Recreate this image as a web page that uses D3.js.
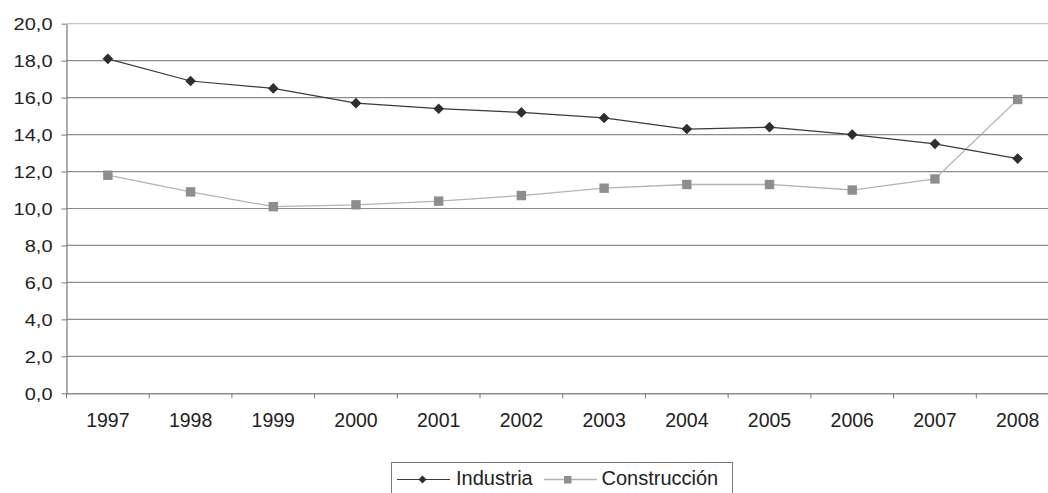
<!DOCTYPE html>
<html>
<head>
<meta charset="utf-8">
<script src="https://cdn.jsdelivr.net/npm/d3@7"></script>
<style>
  html, body { margin: 0; padding: 0; background: #fff; overflow: hidden; }
  svg { display: block; font-family: "Liberation Sans", Arial, sans-serif; }
</style>
</head>
<body>
<svg id="chart" width="1048" height="493"></svg>
<script>
const years = ["1997","1998","1999","2000","2001","2002","2003","2004","2005","2006","2007","2008"];
const industria = [18.1, 16.9, 16.5, 15.7, 15.4, 15.2, 14.9, 14.3, 14.4, 14.0, 13.5, 12.7];
const construccion = [11.8, 10.9, 10.1, 10.2, 10.4, 10.7, 11.1, 11.3, 11.3, 11.0, 11.6, 15.9];
const yTicks = [0, 2, 4, 6, 8, 10, 12, 14, 16, 18, 20];
const seriesNames = ["Industria", "Construcción"];

const svg = d3.select("#chart");
const plotLeft = 66.5, plotRight = 1059, plotTop = 23.7, plotBottom = 393.3;
const textColor = "#222";

const x = d3.scaleBand().domain(years).range([plotLeft, plotRight]);
const y = d3.scaleLinear().domain([0, 20]).range([plotBottom, plotTop]);
const fmt = v => d3.format(".1f")(v).replace(".", ",");
const cx = i => x(years[i]) + x.bandwidth() / 2;

// horizontal gridlines
svg.append("g").selectAll("line").data(yTicks.filter(d => d > 0)).join("line")
  .attr("x1", plotLeft).attr("x2", plotRight)
  .attr("y1", d => y(d)).attr("y2", d => y(d))
  .attr("stroke", d => d === 20 ? "#c4c4c4" : "#8c8c8c").attr("stroke-width", 1.2);

// y axis
const yAxis = svg.append("g").attr("transform", `translate(${plotLeft},0)`)
  .call(d3.axisLeft(y).tickValues(yTicks).tickFormat(fmt).tickSize(5).tickSizeOuter(0));
yAxis.select(".domain").attr("stroke", "#777").attr("stroke-width", 1.2);
yAxis.selectAll(".tick line").attr("stroke", "#777");
yAxis.selectAll(".tick text")
  .attr("font-size", 20).attr("fill", textColor)
  .attr("font-family", "Liberation Sans, Arial, sans-serif")
  .attr("x", 0).attr("dy", "0.36em")
  .attr("transform", "translate(-14,0) scale(1,0.82)");

// x axis
const xAxis = svg.append("g").attr("transform", `translate(0,${plotBottom})`)
  .call(d3.axisBottom(x).tickSize(0).tickSizeOuter(0));
xAxis.select(".domain").attr("stroke", "#8c8c8c").attr("stroke-width", 1.4);
xAxis.selectAll(".tick text").attr("font-size", 19.5).attr("fill", textColor)
  .attr("y", 20).attr("font-family", "Liberation Sans, Arial, sans-serif");
// tick marks at band boundaries
svg.append("g").selectAll("line").data(years).join("line")
  .attr("x1", d => x(d)).attr("x2", d => x(d))
  .attr("y1", plotBottom).attr("y2", plotBottom + 5)
  .attr("stroke", "#777");

const line = d3.line().x((d, i) => cx(i)).y(d => y(d));

// Construcción
svg.append("path").datum(construccion).attr("d", line)
  .attr("fill", "none").attr("stroke", "#b3b3b3").attr("stroke-width", 1.3);
svg.append("g").selectAll("rect").data(construccion).join("rect")
  .attr("x", (d, i) => cx(i) - 4.7)
  .attr("y", d => y(d) - 4.7)
  .attr("width", 9.4).attr("height", 9.4)
  .attr("fill", "#8e8e8e");

// Industria
svg.append("path").datum(industria).attr("d", line)
  .attr("fill", "none").attr("stroke", "#3a3a3a").attr("stroke-width", 1.2);
const diamond = d3.symbol().type(d3.symbolDiamond2).size(72);
svg.append("g").selectAll("path").data(industria).join("path")
  .attr("d", diamond)
  .attr("transform", (d, i) => `translate(${cx(i)},${y(d)})`)
  .attr("fill", "#2e2e2e");

// legend
const lg = svg.append("g").attr("font-family", "Liberation Sans, Arial, sans-serif");
lg.append("rect").attr("x", 391.5).attr("y", 462.5).attr("width", 341).attr("height", 40)
  .attr("fill", "#fff").attr("stroke", "#777").attr("stroke-width", 1);
lg.append("line").attr("x1", 397).attr("x2", 450).attr("y1", 479.5).attr("y2", 479.5)
  .attr("stroke", "#3a3a3a").attr("stroke-width", 1.2);
lg.append("path").attr("d", d3.symbol().type(d3.symbolDiamond2).size(40))
  .attr("transform", "translate(422.5,479.5)").attr("fill", "#2e2e2e");
lg.append("text").attr("x", 456).attr("y", 484.5).attr("font-size", 20).attr("fill", textColor)
  .text(seriesNames[0]);
lg.append("line").attr("x1", 544).attr("x2", 597).attr("y1", 479.5).attr("y2", 479.5)
  .attr("stroke", "#b3b3b3").attr("stroke-width", 1.3);
lg.append("rect").attr("x", 564).attr("y", 476).attr("width", 7.5).attr("height", 7.5)
  .attr("fill", "#8e8e8e");
lg.append("text").attr("x", 601.5).attr("y", 484.5).attr("font-size", 20).attr("fill", textColor)
  .text(seriesNames[1]);
</script>
</body>
</html>
